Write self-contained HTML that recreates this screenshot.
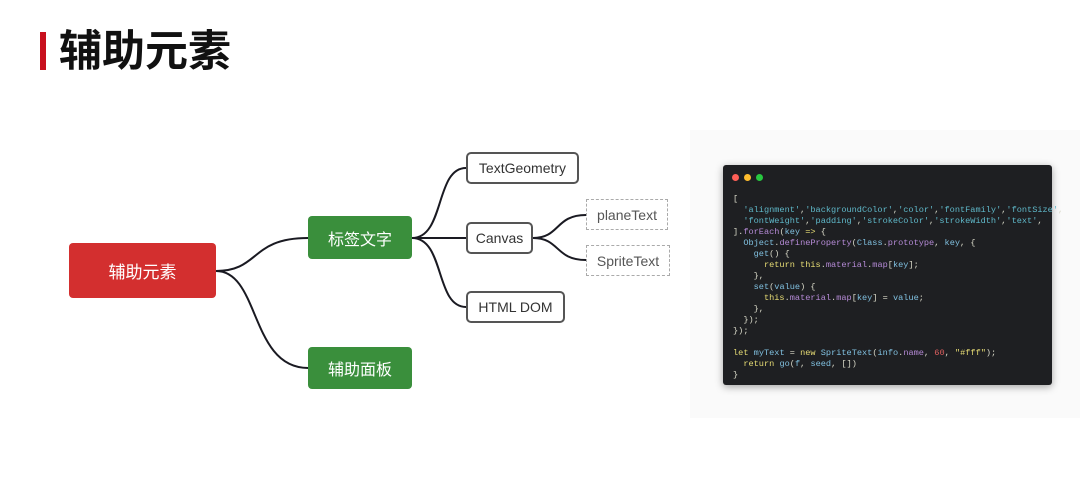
<!DOCTYPE html>
<html><head><meta charset="utf-8"><style>
body{margin:0;width:1080px;height:500px;background:#fff;position:relative;overflow:hidden;font-family:"Liberation Sans","Noto Sans CJK SC",sans-serif}
.a{position:absolute;box-sizing:border-box;display:flex;align-items:center;justify-content:center}
.g{background:#3a8f3c;color:#fff;border-radius:4px;font-size:16px}
.w{border:2px solid #555;border-radius:5px;background:#fff;color:#333;font-size:14px}
.d{border:1.5px dashed #aaa;background:#fff;color:#555;font-size:14px}
pre{position:absolute;left:733px;top:194px;margin:0;font-family:"Liberation Mono",monospace;font-size:8.6px;line-height:11px;color:#d8d8c8}
.s{color:#5fb8c9}.k{color:#e6db74}.p{color:#b58ad6}.n{color:#e06060}.v{color:#80c0e0}
</style></head><body>
<div style="position:absolute;left:690px;top:130px;width:390px;height:288px;background:#fafafa"></div>
<div style="position:absolute;left:40px;top:32px;width:6px;height:38px;background:#c8101e"></div>
<div style="position:absolute;left:59px;top:22px;font-size:43px;font-weight:bold;color:#111;font-family:'Noto Sans CJK SC',sans-serif;line-height:52px">辅助元素</div>
<svg width="1080" height="500" style="position:absolute;left:0;top:0" fill="none" stroke="#1a1a22" stroke-width="2">
<path d="M216 271 C260 271 250 238 308 238"/>
<path d="M216 271 C260 271 250 368 308 368"/>
<path d="M412 238 C445 238 435 168 466 168"/>
<path d="M412 238 L466 238"/>
<path d="M412 238 C445 238 435 307 466 307"/>
<path d="M533 238 C560 238 555 215 586 215"/>
<path d="M533 238 C560 238 555 260 586 260"/>
</svg>
<div class="a" style="left:69px;top:243px;width:147px;height:55px;background:#d32f2f;color:#fff;border-radius:4px;font-size:17px">辅助元素</div>
<div class="a g" style="left:308px;top:216px;width:104px;height:43px">标签文字</div>
<div class="a g" style="left:308px;top:347px;width:104px;height:42px">辅助面板</div>
<div class="a w" style="left:466px;top:152px;width:113px;height:32px">TextGeometry</div>
<div class="a w" style="left:466px;top:222px;width:67px;height:32px">Canvas</div>
<div class="a w" style="left:466px;top:291px;width:99px;height:32px">HTML DOM</div>
<div class="a d" style="left:586px;top:199px;width:82px;height:31px">planeText</div>
<div class="a d" style="left:586px;top:245px;width:84px;height:31px">SpriteText</div>
<div style="position:absolute;left:723px;top:165px;width:329px;height:220px;background:#1e1f22;border-radius:3px;box-shadow:0 2px 8px rgba(0,0,0,.35)"></div>
<div style="position:absolute;left:732px;top:174px;width:7px;height:7px;border-radius:50%;background:#fe5f57"></div>
<div style="position:absolute;left:744px;top:174px;width:7px;height:7px;border-radius:50%;background:#febc2e"></div>
<div style="position:absolute;left:756px;top:174px;width:7px;height:7px;border-radius:50%;background:#28c840"></div>
<pre>[
  <span class="s">'alignment'</span>,<span class="s">'backgroundColor'</span>,<span class="s">'color'</span>,<span class="s">'fontFamily'</span>,<span class="s">'fontSize'</span>,
  <span class="s">'fontWeight'</span>,<span class="s">'padding'</span>,<span class="s">'strokeColor'</span>,<span class="s">'strokeWidth'</span>,<span class="s">'text'</span>,
].<span class="p">forEach</span>(<span class="v">key</span> <span class="k">=&gt;</span> {
  <span class="v">Object</span>.<span class="p">defineProperty</span>(<span class="v">Class</span>.<span class="p">prototype</span>, <span class="v">key</span>, {
    <span class="v">get</span>() {
      <span class="k">return this</span>.<span class="p">material</span>.<span class="p">map</span>[<span class="v">key</span>];
    },
    <span class="v">set</span>(<span class="v">value</span>) {
      <span class="k">this</span>.<span class="p">material</span>.<span class="p">map</span>[<span class="v">key</span>] = <span class="v">value</span>;
    },
  });
});

<span class="k">let</span> <span class="v">myText</span> = <span class="k">new</span> <span class="v">SpriteText</span>(<span class="v">info</span>.<span class="p">name</span>, <span class="n">60</span>, <span class="k">"#fff"</span>);
  <span class="k">return</span> <span class="v">go</span>(<span class="v">f</span>, <span class="v">seed</span>, [])
}</pre>
</body></html>
